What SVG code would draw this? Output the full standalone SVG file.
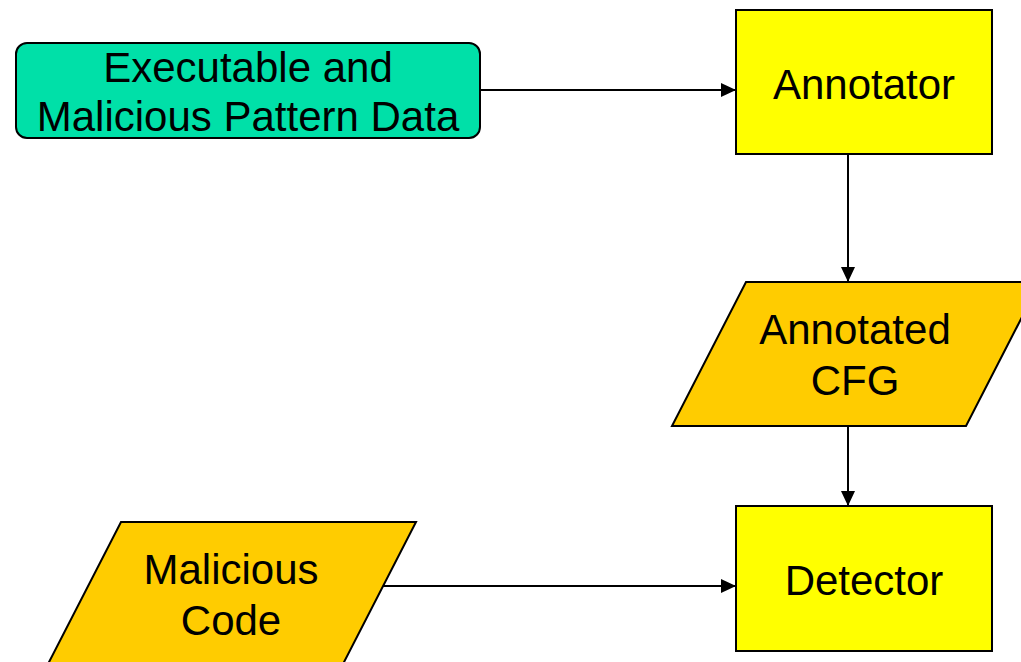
<svg xmlns="http://www.w3.org/2000/svg" width="1021" height="662" viewBox="0 0 1021 662">
<style>
.box{stroke:#000;stroke-width:2}
.proc{fill:#FFFF00}
.data{fill:#FFCC00}
.src{fill:#00E0A8}
.lbl{font-family:"Liberation Sans",Arial,sans-serif;font-size:42px;fill:#000;text-anchor:middle}
.edge{stroke:#000;stroke-width:2;fill:none;marker-end:url(#ah)}
</style>
<defs>
<marker id="ah" markerUnits="userSpaceOnUse" markerWidth="16" markerHeight="14" refX="15" refY="7" orient="auto">
<path d="M0,0 L15,7 L0,14 Z" fill="#000"/>
</marker>
</defs>
<rect width="1021" height="662" fill="#fff"/>
<g id="connectors">
<line class="edge" x1="480" y1="90" x2="736" y2="90"/>
<line class="edge" x1="848" y1="154" x2="848" y2="282"/>
<line class="edge" x1="848" y1="426" x2="848" y2="506"/>
<line class="edge" x1="383" y1="586" x2="736" y2="586"/>
</g>
<g id="node-data">
<rect class="box src" x="16" y="43" width="464" height="95" rx="11" ry="11"/>
<text class="lbl" x="248" y="82">Executable and</text>
<text class="lbl" x="248" y="131">Malicious Pattern Data</text>
</g>
<g id="node-annotator">
<rect class="box proc" x="736" y="10" width="256" height="144"/>
<text class="lbl" x="864" y="99">Annotator</text>
</g>
<g id="node-cfg">
<polygon class="box data" points="746,282 1040,282 966,426 672,426"/>
<text class="lbl" x="855" y="344">Annotated</text>
<text class="lbl" x="855" y="395">CFG</text>
</g>
<g id="node-detector">
<rect class="box proc" x="736" y="506" width="256" height="145"/>
<text class="lbl" x="864" y="595">Detector</text>
</g>
<g id="node-malicious">
<polygon class="box data" points="121,522 416,522 342,666 47,666"/>
<text class="lbl" x="231" y="584">Malicious</text>
<text class="lbl" x="231" y="635">Code</text>
</g>
</svg>
